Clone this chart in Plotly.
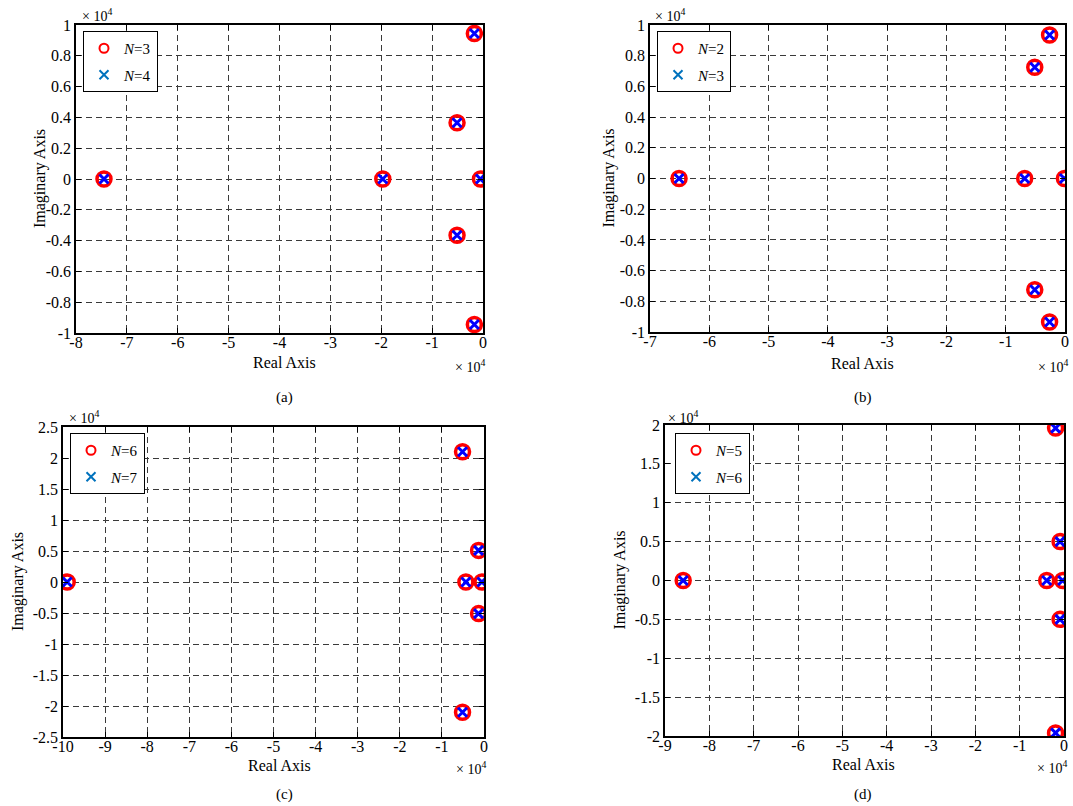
import plotly.graph_objects as go

# ---- data (units of 10^4) ----
a_re = [-7.45, -1.97, -0.05, -0.51, -0.51, -0.17, -0.17]
a_im = [0.0, 0.0, 0.0, 0.365, -0.365, 0.945, -0.945]
b_re = [-6.51, -0.68, -0.01, -0.51, -0.51, -0.26, -0.26]
b_im = [0.0, 0.0, 0.0, 0.725, -0.725, 0.935, -0.935]
c_re = [-9.9, -0.43, -0.05, -0.13, -0.13, -0.51, -0.51]
c_im = [0.0, 0.0, 0.0, 0.51, -0.51, 2.1, -2.1]
d_re = [-8.59, -0.39, -0.03, -0.09, -0.09, -0.19, -0.19]
d_im = [0.0, 0.0, 0.0, 0.5, -0.5, 1.96, -1.96]

labels_a = ["<i>N</i>=3", "<i>N</i>=4"]
labels_b = ["<i>N</i>=2", "<i>N</i>=3"]
labels_c = ["<i>N</i>=6", "<i>N</i>=7"]
labels_d = ["<i>N</i>=5", "<i>N</i>=6"]
captions = ["(a)", "(b)", "(c)", "(d)"]

xt_a = [-8, -7, -6, -5, -4, -3, -2, -1, 0]
xt_b = [-7, -6, -5, -4, -3, -2, -1, 0]
xt_c = [-10, -9, -8, -7, -6, -5, -4, -3, -2, -1, 0]
xt_d = [-9, -8, -7, -6, -5, -4, -3, -2, -1, 0]
yt_ab = [-1, -0.8, -0.6, -0.4, -0.2, 0, 0.2, 0.4, 0.6, 0.8, 1]
yt_c = [-2.5, -2, -1.5, -1, -0.5, 0, 0.5, 1, 1.5, 2, 2.5]
yt_d = [-2, -1.5, -1, -0.5, 0, 0.5, 1, 1.5, 2]

W, H = 1073, 806
FONT = "Liberation Serif"

def fmt(v):
    if abs(v - round(v)) < 1e-9:
        return str(int(round(v)))
    return "%g" % v

# pixel layout: plot area (left, right, top, bottom), legend top-left, text anchors
panels = [
    dict(re=a_re, im=a_im, lab=labels_a, xt=xt_a, yt=yt_ab, px=(76, 483, 25, 333), leg=(83, 31),
         ytx=40, xtx=284, xty=362, capx=284, capy=397, etx=80, ety=15, ebx=487, eby=366),
    dict(re=b_re, im=b_im, lab=labels_b, xt=xt_b, yt=yt_ab, px=(650, 1065, 25, 332), leg=(657, 31),
         ytx=608, xtx=862, xty=363, capx=863, capy=397, etx=653, ety=15, ebx=1070, eby=366),
    dict(re=c_re, im=c_im, lab=labels_c, xt=xt_c, yt=yt_c, px=(63, 484, 427, 737), leg=(70, 433),
         ytx=18, xtx=279, xty=765, capx=284, capy=794, etx=67, ety=417, ebx=488, eby=768),
    dict(re=d_re, im=d_im, lab=labels_d, xt=xt_d, yt=yt_d, px=(665, 1064, 425, 736), leg=(675, 433),
         ytx=619, xtx=863, xty=764, capx=863, capy=794, etx=666, ety=417, ebx=1069, eby=767),
]

fig = go.Figure()
layout = dict(width=W, height=H, margin=dict(l=0, r=0, t=0, b=0, autoexpand=False),
              paper_bgcolor="white", plot_bgcolor="white",
              font=dict(family=FONT, size=15, color="black"),
              showlegend=True)
annotations = []

for i, p in enumerate(panels):
    k = "" if i == 0 else str(i + 1)
    xa, ya = "x" + k, "y" + k
    l, r, t, b = p["px"]
    legname = "legend" if i == 0 else "legend" + str(i + 1)
    fig.add_trace(go.Scatter(x=p["re"], y=p["im"], mode="markers", xaxis=xa, yaxis=ya,
                             showlegend=False, hoverinfo="skip",
                             marker=dict(symbol="circle-open", size=14, color="red",
                                         line=dict(width=3.5, color="red"))))
    fig.add_trace(go.Scatter(x=p["re"], y=p["im"], mode="markers", xaxis=xa, yaxis=ya,
                             showlegend=False, hoverinfo="skip",
                             marker=dict(symbol="x-thin", size=9, color="blue",
                                         line=dict(width=3, color="blue"))))
    fig.add_trace(go.Scatter(x=[None], y=[None], mode="markers", xaxis=xa, yaxis=ya,
                             name=p["lab"][0], legend=legname, legendgroup="g%d1" % i,
                             marker=dict(symbol="circle-open", size=9, color="red",
                                         line=dict(width=2, color="red"))))
    fig.add_trace(go.Scatter(x=[None], y=[None], mode="markers", xaxis=xa, yaxis=ya,
                             name=p["lab"][1], legend=legname, legendgroup="g%d2" % i,
                             marker=dict(symbol="x-thin", size=9, color="#0072BD",
                                         line=dict(width=2, color="#0072BD"))))
    xt, yt = p["xt"], p["yt"]
    common = dict(showline=True, linecolor="black", linewidth=1.5, mirror="ticks",
                  ticks="inside", ticklen=5, tickwidth=1, tickcolor="black",
                  showgrid=True, gridcolor="#3a3a3a", gridwidth=1, griddash="6px,4px",
                  zeroline=False, automargin=False,
                  tickfont=dict(family=FONT, size=16, color="black"))
    layout["xaxis" + k] = dict(common, domain=[l / W, r / W], range=[xt[0], xt[-1]],
                               anchor=ya, tickvals=xt, ticktext=[fmt(v) for v in xt],
                               ticklabelstandoff=-6)
    layout["yaxis" + k] = dict(common, domain=[1 - b / H, 1 - t / H], range=[yt[0], yt[-1]],
                               anchor=xa, tickvals=yt, ticktext=[fmt(v) for v in yt],
                               ticklabelstandoff=0)
    lx, ly = p["leg"]
    layout[legname] = dict(x=lx / W, y=1 - ly / H, xanchor="left", yanchor="top",
                           xref="paper", yref="paper",
                           bgcolor="white", bordercolor="black", borderwidth=1,
                           font=dict(family=FONT, size=15, color="black"),
                           traceorder="grouped", tracegroupgap=4,
                           itemwidth=30, entrywidth=60)
    annotations.append(dict(text="Real Axis", x=p["xtx"] / W, y=1 - p["xty"] / H,
                            xref="paper", yref="paper", showarrow=False,
                            font=dict(family=FONT, size=16), xanchor="center", yanchor="middle"))
    annotations.append(dict(text="Imaginary Axis", x=p["ytx"] / W, y=1 - ((t + b) / 2) / H,
                            xref="paper", yref="paper", showarrow=False, textangle=-90,
                            font=dict(family=FONT, size=16), xanchor="center", yanchor="middle"))
    annotations.append(dict(text="× 10<sup>4</sup>", x=p["etx"] / W, y=1 - p["ety"] / H,
                            xref="paper", yref="paper", showarrow=False,
                            font=dict(family=FONT, size=14), xanchor="left", yanchor="middle"))
    annotations.append(dict(text="× 10<sup>4</sup>", x=p["ebx"] / W, y=1 - p["eby"] / H,
                            xref="paper", yref="paper", showarrow=False,
                            font=dict(family=FONT, size=14), xanchor="right", yanchor="middle"))
    annotations.append(dict(text=captions[i], x=p["capx"] / W, y=1 - p["capy"] / H,
                            xref="paper", yref="paper", showarrow=False,
                            font=dict(family=FONT, size=15), xanchor="center", yanchor="middle"))

layout["annotations"] = annotations
fig.update_layout(**layout)
fig.write_html("out.html")
